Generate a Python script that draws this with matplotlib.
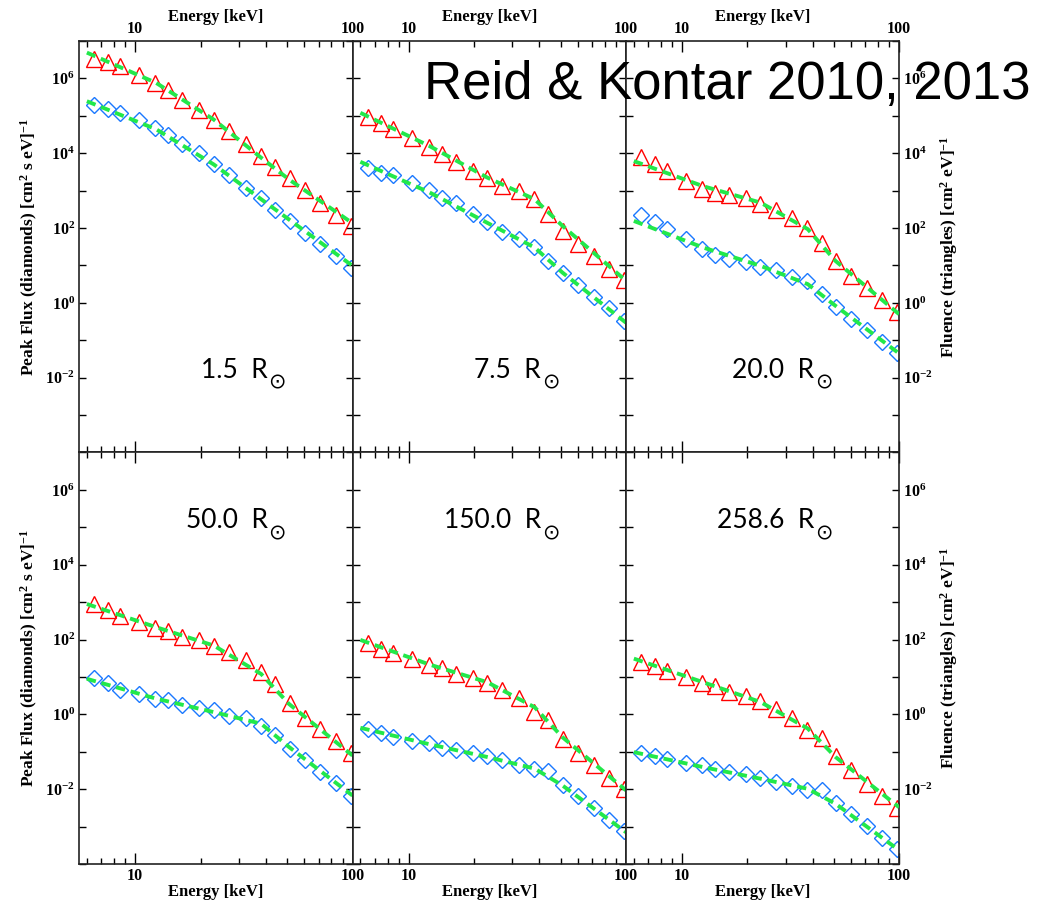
import numpy as np
import matplotlib
matplotlib.use("Agg")
import matplotlib.pyplot as plt
from matplotlib.ticker import LogLocator, FuncFormatter, NullLocator

plt.rcParams['font.family'] = ['Liberation Serif', 'DejaVu Serif']
plt.rcParams['font.weight'] = 'bold'
plt.rcParams['mathtext.fontset'] = 'custom'
plt.rcParams['mathtext.rm'] = 'Liberation Serif:bold'
plt.rcParams['mathtext.it'] = 'Liberation Serif:bold'
plt.rcParams['mathtext.bf'] = 'Liberation Serif:bold'

# ---------------- data (log10 units) ----------------
energy = [6.5, 7.5, 8.5, 10.4, 12.4, 14.2, 16.5, 19.7, 23.0, 27.0, 32.2, 37.8,
          44.0, 51.4, 60.3, 71.2, 83.8, 98.0]
fit_energy = [6.0, 12.5, 23.0, 38.0, 51.0, 100.0]

distances = ["1.5", "7.5", "20.0", "50.0", "150.0", "258.6"]

fluence_log10 = [
    [6.53, 6.44, 6.32, 6.10, 5.88, 5.68, 5.43, 5.16, 4.90, 4.59, 4.26, 3.93, 3.64, 3.34, 3.01, 2.68, 2.36, 2.06],
    [4.98, 4.80, 4.64, 4.41, 4.16, 3.97, 3.77, 3.52, 3.33, 3.13, 2.99, 2.78, 2.38, 1.93, 1.57, 1.26, 0.91, 0.62],
    [3.91, 3.71, 3.53, 3.27, 3.04, 2.95, 2.89, 2.80, 2.64, 2.48, 2.28, 2.01, 1.59, 1.11, 0.73, 0.41, 0.07, -0.25],
    [2.94, 2.79, 2.63, 2.47, 2.31, 2.22, 2.06, 1.98, 1.82, 1.66, 1.45, 1.14, 0.80, 0.31, -0.10, -0.38, -0.72, -1.03],
    [1.92, 1.76, 1.63, 1.48, 1.32, 1.23, 1.09, 0.98, 0.83, 0.65, 0.44, 0.07, -0.16, -0.65, -1.02, -1.36, -1.69, -2.00],
    [1.41, 1.28, 1.15, 0.99, 0.83, 0.76, 0.59, 0.50, 0.35, 0.14, -0.10, -0.43, -0.63, -1.11, -1.49, -1.85, -2.17, -2.49],
]
peak_flux_log10 = [
    [5.28, 5.17, 5.07, 4.89, 4.67, 4.50, 4.25, 4.00, 3.70, 3.41, 3.08, 2.79, 2.48, 2.19, 1.88, 1.57, 1.25, 0.94],
    [3.61, 3.48, 3.42, 3.21, 3.01, 2.80, 2.66, 2.37, 2.16, 1.90, 1.70, 1.48, 1.12, 0.79, 0.47, 0.16, -0.15, -0.48],
    [2.34, 2.16, 1.98, 1.72, 1.45, 1.27, 1.18, 1.10, 0.97, 0.88, 0.70, 0.59, 0.25, -0.10, -0.44, -0.73, -1.04, -1.35],
    [0.98, 0.84, 0.64, 0.55, 0.42, 0.39, 0.24, 0.17, 0.11, -0.05, -0.11, -0.32, -0.56, -0.92, -1.23, -1.54, -1.84, -2.17],
    [-0.39, -0.50, -0.61, -0.70, -0.77, -0.89, -0.96, -1.03, -1.12, -1.21, -1.35, -1.47, -1.52, -1.88, -2.19, -2.50, -2.82, -3.13],
    [-1.03, -1.12, -1.20, -1.30, -1.36, -1.45, -1.54, -1.60, -1.69, -1.81, -1.92, -2.01, -2.03, -2.37, -2.67, -2.98, -3.30, -3.59],
]
fluence_fit_log10 = [
    [6.69, 5.88, 4.90, 3.88, 3.30, 2.13],
    [5.08, 4.19, 3.35, 2.77, 2.06, 0.59],
    [3.79, 3.12, 2.68, 1.97, 1.12, -0.30],
    [2.95, 2.33, 1.84, 1.08, 0.28, -1.10],
    [1.99, 1.33, 0.86, 0.19, -0.61, -2.03],
    [1.49, 0.86, 0.33, -0.38, -1.14, -2.48],
]
peak_fit_log10 = [
    [5.39, 4.64, 3.70, 2.77, 2.23, 0.99],
    [3.77, 2.95, 2.14, 1.48, 0.81, -0.53],
    [2.19, 1.48, 0.99, 0.50, -0.08, -1.35],
    [0.95, 0.42, 0.06, -0.25, -0.87, -2.17],
    [-0.36, -0.80, -1.14, -1.45, -1.90, -3.15],
    [-1.01, -1.41, -1.72, -1.99, -2.39, -3.63],
]

# ---------------- figure ----------------
W, H = 1053, 906
fig = plt.figure(figsize=(W / 100, H / 100), dpi=100)

col_edges = [79, 352.5, 626, 899]
row_edges = [41, 452.5, 864]

red = '#ff0000'
blue = '#1a78ff'
green = '#22e84a'

def ylab(v, pos):
    e = int(round(np.log10(v)))
    if e % 2 == 0 and -2 <= e <= 6:
        return r'$10^{%d}$' % e
    return ''

def xlab(v, pos):
    return '%d' % round(v)

for i in range(6):
    r, c = divmod(i, 3)
    x0, x1 = col_edges[c], col_edges[c + 1]
    y0, y1 = row_edges[r], row_edges[r + 1]
    ax = fig.add_axes([x0 / W, 1 - y1 / H, (x1 - x0) / W, (y1 - y0) / H])
    ax.set_xscale('log')
    ax.set_yscale('log')
    ax.set_xlim(5.52, 100)
    ax.set_ylim(1e-4, 1e7)

    e = np.array(energy)
    ax.plot(e, np.power(10.0, fluence_log10[i]), linestyle='none', marker='^',
            markersize=11, markerfacecolor='none', markeredgecolor=red,
            markeredgewidth=1.0, clip_on=True, zorder=2)
    ax.plot(e, np.power(10.0, peak_flux_log10[i]), linestyle='none', marker='D',
            markersize=8.2, markerfacecolor='none', markeredgecolor=blue,
            markeredgewidth=1.0, clip_on=True, zorder=2)
    fe = np.array(fit_energy)
    for fit in (fluence_fit_log10[i], peak_fit_log10[i]):
        ax.plot(fe, np.power(10.0, fit), color=green, linewidth=2.8,
                dashes=(2.4, 1.5), zorder=3)

    ax.xaxis.set_major_locator(LogLocator(base=10, subs=(1.0,), numticks=10))
    ax.xaxis.set_minor_locator(LogLocator(base=10, subs=np.arange(2, 10), numticks=20))
    ax.xaxis.set_major_formatter(FuncFormatter(xlab))
    ax.xaxis.set_minor_formatter(FuncFormatter(lambda v, p: ''))
    ax.yaxis.set_major_locator(LogLocator(base=10, subs=(1.0,), numticks=30))
    ax.yaxis.set_minor_locator(NullLocator())
    ax.yaxis.set_major_formatter(FuncFormatter(ylab))

    ax.tick_params(axis='both', which='both', direction='in', top=True, right=True,
                   labelsize=11.5, width=1.0)
    ax.tick_params(axis='x', which='major', length=8, pad=3)
    ax.tick_params(axis='x', which='minor', length=4)
    ax.tick_params(axis='y', which='major', length=5, pad=3)

    top = (r == 0)
    ax.tick_params(axis='x', labeltop=top, labelbottom=not top)
    ax.tick_params(axis='y', labelleft=(c == 0), labelright=(c == 2))

    if top:
        ax.xaxis.set_label_position('top')
    ax.set_xlabel('Energy [keV]', fontsize=12, fontweight='bold', labelpad=0)

    if c == 0:
        ax.set_ylabel(r'Peak Flux (diamonds) [cm$^{2}$ s eV]$^{-1}$', fontsize=12.5,
                      fontweight='bold', labelpad=4)
    if c == 2:
        ax.yaxis.set_label_position('right')
        ax.set_ylabel(r'Fluence (triangles) [cm$^{2}$ eV]$^{-1}$', fontsize=12.5,
                      fontweight='bold', labelpad=4, rotation=90)

    for s in ax.spines.values():
        s.set_linewidth(1.2)
        s.set_color('#222222')

    ty = 0.182 if top else 0.817
    t = ax.text(0.69, ty, distances[i] + '  R', transform=ax.transAxes,
                ha='right', va='baseline', fontsize=19, fontfamily='Lato',
                fontweight='normal', color='black', zorder=5)
    ax.annotate('\u2299', xy=(1.0, 0.0), xycoords=t, xytext=(0.3, -4.5),
                textcoords='offset points', ha='left', va='baseline',
                fontsize=15, fontfamily='DejaVu Sans', fontweight='normal',
                color='black', zorder=5)

fig.text(424 / W, 1 - 99 / H, 'Reid & Kontar 2010, 2013', fontsize=38,
         fontfamily='Liberation Sans', fontweight='normal', va='baseline', ha='left',
         zorder=10)

fig.savefig('out.png', dpi=100)
